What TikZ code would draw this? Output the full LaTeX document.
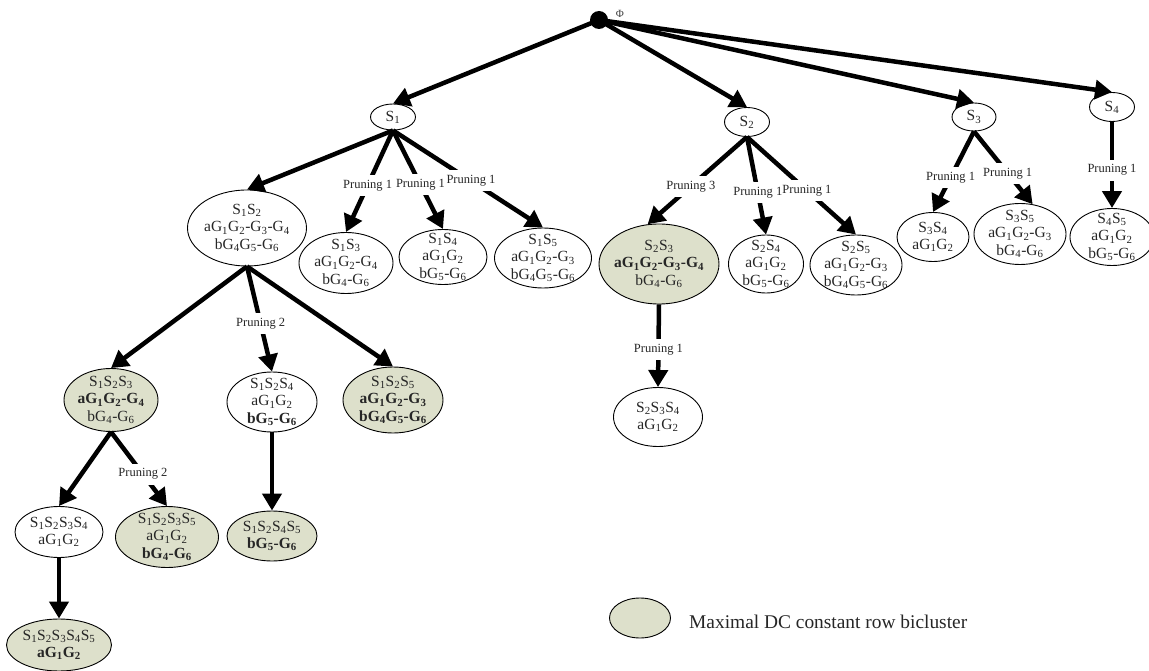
\documentclass[tikz,border=0pt]{standalone}
\usepackage{fontspec}
\setmainfont{Liberation Serif}
\usetikzlibrary{shapes.geometric,arrows.meta}
\definecolor{mx}{RGB}{221,224,203}
\newcommand\ix[1]{\textsubscript{#1}}
\begin{document}
\begin{tikzpicture}[x=1pt,y=-1pt,
  nd/.style 2 args={ellipse,draw,line width=0.9pt,minimum width=#1,minimum height=#2,inner sep=0pt},
  mxs/.style={fill=mx},
  txt/.style={align=center,inner sep=0pt,font=\fontsize{15.5}{17.5}\selectfont,text=black!85},
  ed/.style={line width=4.5pt,-{Triangle[length=17pt,width=19pt]}},
  prune/.style={fill=white,inner xsep=0.5pt,inner ysep=5pt,font=\fontsize{12.5}{14}\selectfont,text=black!85}]
\useasboundingbox (0,0) rectangle (1149,671);
\clip (0,0) rectangle (1149,671);

% root
\node[circle,fill=black,minimum size=18,inner sep=0pt] (phi) at (599,20) {};
\node[font=\fontsize{11}{12}\selectfont,text=black!75] (phil) at (620,14) {Φ};

% level 1
\node[nd={45}{26},label={[txt]center:{S\ix1}}] (S1) at (393,117) {};
\node[nd={45}{29},label={[txt]center:{S\ix2}}] (S2) at (747,122) {};
\node[nd={44}{28},label={[txt]center:{S\ix3}}] (S3) at (974,117) {};
\node[nd={45}{29},label={[txt]center:{S\ix4}}] (S4) at (1112,107) {};

% level 2
\node[nd={119}{76},label={[txt]center:{S\ix1S\ix2\\aG\ix1G\ix2-G\ix3-G\ix4\\bG\ix4G\ix5-G\ix6}}] (S1S2) at (247,228) {};
\node[nd={94}{61},label={[txt]center:{S\ix1S\ix3\\aG\ix1G\ix2-G\ix4\\bG\ix4-G\ix6}}] (S1S3) at (346,263) {};
\node[nd={88}{55},label={[txt]center:{S\ix1S\ix4\\aG\ix1G\ix2\\bG\ix5-G\ix6}}] (S1S4) at (443,257) {};
\node[nd={97}{60},label={[txt]center:{S\ix1S\ix5\\aG\ix1G\ix2-G\ix3\\bG\ix4G\ix5-G\ix6}}] (S1S5) at (543,258) {};
\node[nd={120}{80},mxs,label={[txt]center:{S\ix2S\ix3\\\textbf{aG\ix1G\ix2-G\ix3-G\ix4}\\bG\ix4-G\ix6}}] (S2S3) at (659,264) {};
\node[nd={75}{58},label={[txt]center:{S\ix2S\ix4\\aG\ix1G\ix2\\bG\ix5-G\ix6}}] (S2S4) at (766,264) {};
\node[nd={92}{60},label={[txt]center:{S\ix2S\ix5\\aG\ix1G\ix2-G\ix3\\bG\ix4G\ix5-G\ix6}}] (S2S5) at (856,265) {};
\node[nd={72}{49},label={[txt]center:{S\ix3S\ix4\\aG\ix1G\ix2}}] (S3S4) at (933,237) {};
\node[nd={92}{61},label={[txt]center:{S\ix3S\ix5\\aG\ix1G\ix2-G\ix3\\bG\ix4-G\ix6}}] (S3S5) at (1020,234) {};
\node[nd={84}{57},label={[txt]center:{S\ix4S\ix5\\aG\ix1G\ix2\\bG\ix5-G\ix6}}] (S4S5) at (1112,237) {};

% level 3
\node[nd={94}{63},mxs,label={[txt]center:{S\ix1S\ix2S\ix3\\\textbf{aG\ix1G\ix2-G\ix4}\\bG\ix4-G\ix6}}] (S1S2S3) at (111,400) {};
\node[nd={90}{60},label={[txt]center:{S\ix1S\ix2S\ix4\\aG\ix1G\ix2\\\textbf{bG\ix5-G\ix6}}}] (S1S2S4) at (272,402) {};
\node[nd={100}{66},mxs,label={[txt]center:{S\ix1S\ix2S\ix5\\\textbf{aG\ix1G\ix2-G\ix3}\\\textbf{bG\ix4G\ix5-G\ix6}}}] (S1S2S5) at (393,400) {};
\node[nd={89}{59},label={[txt]center:{S\ix2S\ix3S\ix4\\aG\ix1G\ix2}}] (S2S3S4) at (658,417) {};

% level 4
\node[nd={88}{51},label={[txt]center:{S\ix1S\ix2S\ix3S\ix4\\aG\ix1G\ix2}}] (S1S2S3S4) at (59,532) {};
\node[nd={103}{61},mxs,label={[txt]center:{S\ix1S\ix2S\ix3S\ix5\\aG\ix1G\ix2\\\textbf{bG\ix4-G\ix6}}}] (S1S2S3S5) at (167,537) {};
\node[nd={90}{50},mxs,label={[txt]center:{S\ix1S\ix2S\ix4S\ix5\\\textbf{bG\ix5-G\ix6}}}] (S1S2S4S5) at (272,536) {};

% level 5
\node[nd={105}{52},mxs,label={[txt]center:{S\ix1S\ix2S\ix3S\ix4S\ix5\\\textbf{aG\ix1G\ix2}}}] (S12345) at (59,645) {};

% legend
\node[nd={61}{40},mxs] (leg) at (640,618) {};
\node[anchor=west,inner sep=0pt,font=\fontsize{19.4}{22}\selectfont,text=black!85] (legt) at (689,622) {Maximal DC constant row bicluster};

% edges from root
\draw[ed] (phi.center) -- (S1.north);
\draw[ed] (phi.center) -- (S2.north);
\draw[ed] (phi.center) -- (S3.north);
\draw[ed] (phi.center) -- (S4.north);

% edges from S1
\draw[ed] (S1.south) -- (S1S2.north);
\draw[ed] (S1.south) -- node[prune,pos=0.54] (p11) {Pruning 1} (S1S3.north);
\draw[ed] (S1.south) -- node[prune,pos=0.55] (p12) {Pruning 1} (S1S4.north);
\draw[ed] (S1.south) -- node[prune,pos=0.52] (p13) {Pruning 1} (S1S5.north);

% edges from S2
\draw[ed] (S2.south) -- node[prune,pos=0.565] (p21) {Pruning 3} (S2S3.106);
\draw[ed] (S2.south) -- node[prune,pos=0.57] (p22) {Pruning 1} (S2S4.north);
\draw[ed] (S2.south) -- node[prune,pos=0.55] (p23) {Pruning 1} (S2S5.north);

% edges from S3, S4
\draw[ed] (S3.south) -- node[prune,pos=0.57] (p31) {Pruning 1} (S3S4.north);
\draw[ed] (S3.south) -- node[prune,pos=0.575] (p32) {Pruning 1} (S3S5.67);
\draw[ed] (S4.south) -- node[prune,pos=0.56] (p41) {Pruning 1} (S4S5.north);

% edges from S1S2
\draw[ed] (S1S2.south) -- (S1S2S3.north);
\draw[ed] (S1S2.south) -- node[prune,pos=0.547] (p121) {Pruning 2} (S1S2S4.north);
\draw[ed] (S1S2.south) -- (S1S2S5.north);

% edges from S2S3
\draw[ed] (S2S3.south) -- node[prune,pos=0.55] (p231) {Pruning 1} (S2S3S4.north);

% edges from level 3
\draw[ed] (S1S2S3.south) -- (S1S2S3S4.north);
\draw[ed] (S1S2S3.south) -- node[prune,pos=0.57] (p1231) {Pruning 2} (S1S2S3S5.north);
\draw[ed] (S1S2S4.south) -- (S1S2S4S5.north);
\draw[ed] (S1S2S3S4.south) -- (S12345.north);
\end{tikzpicture}
\end{document}
